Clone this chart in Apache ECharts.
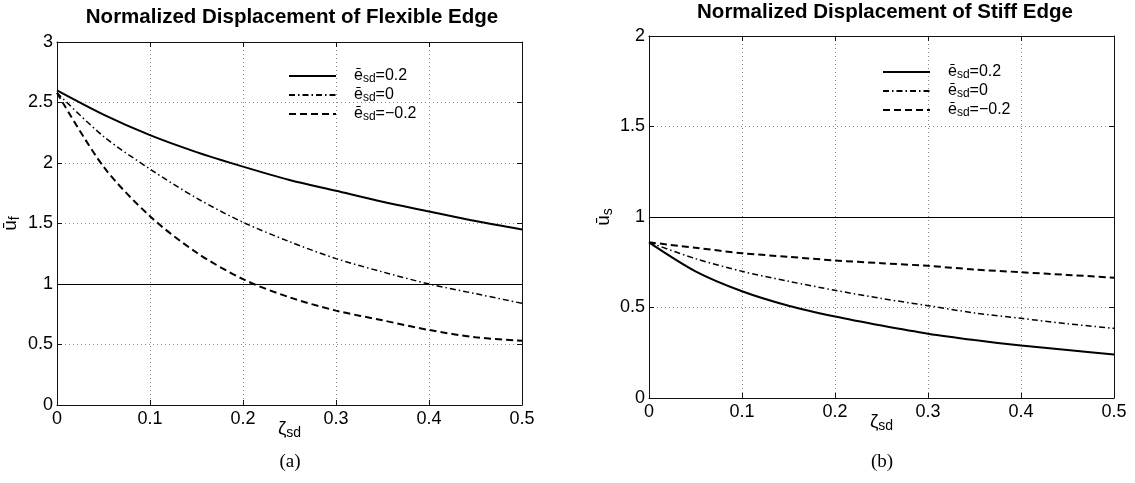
<!DOCTYPE html>
<html><head><meta charset="utf-8">
<script src="https://cdn.jsdelivr.net/npm/echarts@6/dist/echarts.min.js"></script>
<style>html,body{margin:0;padding:0;background:#fff}#c{width:1135px;height:483px}</style>
</head><body><div id="c"></div>
<script>
// ---- data ----
const zeta = [0, 0.05, 0.1, 0.15, 0.2, 0.25, 0.3, 0.35, 0.4, 0.45, 0.5];
const seriesNames = ['e02', 'e0', 'em02'];
const legendLabels = ['=0.2', '=0', '=\u22120.2'];
// (a) flexible edge
const flexPos  = [2.60, 2.40, 2.23, 2.09, 1.97, 1.86, 1.77, 1.68, 1.60, 1.52, 1.45];
const flexZero = [2.58, 2.22, 1.95, 1.71, 1.51, 1.35, 1.21, 1.10, 1.00, 0.92, 0.84];
const flexNeg  = [2.58, 1.97, 1.56, 1.26, 1.04, 0.89, 0.78, 0.70, 0.62, 0.56, 0.53];
// (b) stiff edge
const stiffPos  = [0.86, 0.70, 0.59, 0.51, 0.45, 0.40, 0.355, 0.32, 0.29, 0.265, 0.24];
const stiffZero = [0.86, 0.77, 0.70, 0.645, 0.595, 0.55, 0.51, 0.47, 0.44, 0.41, 0.385];
const stiffNeg  = [0.86, 0.83, 0.80, 0.78, 0.76, 0.745, 0.73, 0.71, 0.695, 0.68, 0.665];
const refValue = 1;
const xTicks = {min: 0, max: 0.5, interval: 0.1};
const yTicksA = {min: 0, max: 3, interval: 0.5};
const yTicksB = {min: 0, max: 2, interval: 0.5};

const FONT = '"Liberation Sans", Arial, Helvetica, sans-serif';
const pairs = ys => zeta.map((x, i) => [x, ys[i]]);
const styles = [
  {type: 'solid', width: 2},
  {type: [6, 3, 1.5, 3], width: 1.5},
  {type: [7, 4], width: 2}
];

function mkSeries(xi, yi, arrs) {
  return arrs.map((a, k) => {
    const s = {
      name: seriesNames[k], type: 'line', xAxisIndex: xi, yAxisIndex: yi,
      data: pairs(a), symbol: 'none', smooth: 0.3, silent: true,
      lineStyle: Object.assign({color: '#000'}, styles[k]),
      itemStyle: {color: '#000'}, z: 3
    };
    if (k === 0) {
      s.markLine = {silent: true, symbol: 'none', label: {show: false},
        lineStyle: {color: '#000', width: 1.2, type: 'solid'},
        data: [{yAxis: refValue}]};
    }
    return s;
  });
}

function xAx(grid, top) {
  return Object.assign({
    type: 'value', gridIndex: grid, position: top ? 'top' : 'bottom',
    axisLine: {show: true, onZero: false, lineStyle: {color: '#111', width: 1}},
    axisTick: {show: true, inside: true, length: 5, lineStyle: {color: '#111'}},
    axisLabel: {show: !top, color: '#000', fontFamily: FONT, fontSize: 18, margin: 5},
    splitLine: {show: !top, lineStyle: {type: [1, 3], color: '#888', width: 1}}
  }, xTicks, top ? {} : {
    name: '{z|\u03B6}{s|sd}', nameLocation: 'middle', nameGap: 13, nameMoveOverlap: false,
    nameTextStyle: {rich: {
      z: {fontFamily: FONT, fontSize: 19, color: '#000'},
      s: {fontFamily: FONT, fontSize: 14, color: '#000', padding: [8, 0, 0, 0]}
    }}
  });
}
function yAx(grid, right, ticks, sub, gap) {
  return Object.assign({
    type: 'value', gridIndex: grid, position: right ? 'right' : 'left',
    axisLine: {show: true, onZero: false, lineStyle: {color: '#111', width: 1}},
    axisTick: {show: true, inside: true, length: 5, lineStyle: {color: '#111'}},
    axisLabel: {show: !right, color: '#000', fontFamily: FONT, fontSize: 18, margin: 4},
    splitLine: {show: !right, lineStyle: {type: [1, 3], color: '#888', width: 1}}
  }, ticks, right ? {} : {
    name: '{u|\u016B}{s|' + sub + '}', nameLocation: 'middle', nameGap: gap, nameRotate: 90,
    nameMoveOverlap: false,
    nameTextStyle: {rich: {
      u: {fontFamily: FONT, fontSize: 19, color: '#000'},
      s: {fontFamily: FONT, fontSize: 14, color: '#000', padding: [8, 0, 0, 0]}
    }}
  });
}

function mkLegend(left, top) {
  return {
    orient: 'vertical', left: left, top: top, padding: 0,
    itemWidth: 47, itemHeight: 12, itemGap: 1,
    data: seriesNames, selectedMode: false,
    itemStyle: {color: 'rgba(0,0,0,0)', borderWidth: 0, opacity: 0},
    formatter: n => '{f|\u0113}{s|sd}{m|' + legendLabels[seriesNames.indexOf(n)] + '}',
    textStyle: {fontFamily: FONT, fontSize: 16, color: '#000', rich: {
      f: {fontFamily: FONT, fontSize: 16, color: '#000', padding: [0, 0, 0, 13], lineHeight: 17},
      m: {fontFamily: FONT, fontSize: 16, color: '#000', lineHeight: 17},
      s: {fontFamily: FONT, fontSize: 12, color: '#000', padding: [6, 0, 0, 0], lineHeight: 17}
    }}
  };
}

const chart = echarts.init(document.getElementById('c'), null, {renderer: 'canvas'});
chart.setOption({
  backgroundColor: '#fff',
  animation: false,
  grid: [
    {left: 57, right: 1135 - 522, top: 42, bottom: 483 - 405},
    {left: 649, right: 1135 - 1114, top: 36, bottom: 483 - 398}
  ],
  xAxis: [xAx(0, false), xAx(0, true), xAx(1, false), xAx(1, true)],
  yAxis: [yAx(0, false, yTicksA, 'f', 35), yAx(0, true, yTicksA), yAx(1, false, yTicksB, 's', 34), yAx(1, true, yTicksB)],
  legend: [mkLegend(288, 67), mkLegend(882, 63)],
  series: [].concat(
    mkSeries(0, 0, [flexPos, flexZero, flexNeg]),
    mkSeries(2, 2, [stiffPos, stiffZero, stiffNeg])
  ),
  graphic: [
    {type: 'text', x: 292, y: 17, style: {text: 'Normalized Displacement of Flexible Edge', fontFamily: FONT, fontWeight: 'bold', fontSize: 20.5, fill: '#000', textAlign: 'center', textVerticalAlign: 'middle'}},
    {type: 'text', x: 885, y: 12, style: {text: 'Normalized Displacement of Stiff Edge', fontFamily: FONT, fontWeight: 'bold', fontSize: 20.5, fill: '#000', textAlign: 'center', textVerticalAlign: 'middle'}},
    {type: 'text', x: 290, y: 462, style: {text: '(a)', fontFamily: '"Liberation Serif", "Times New Roman", serif', fontSize: 19, fill: '#000', textAlign: 'center', textVerticalAlign: 'middle'}},
    {type: 'text', x: 882, y: 462, style: {text: '(b)', fontFamily: '"Liberation Serif", "Times New Roman", serif', fontSize: 19, fill: '#000', textAlign: 'center', textVerticalAlign: 'middle'}}
  ]
});
</script>
</body></html>
